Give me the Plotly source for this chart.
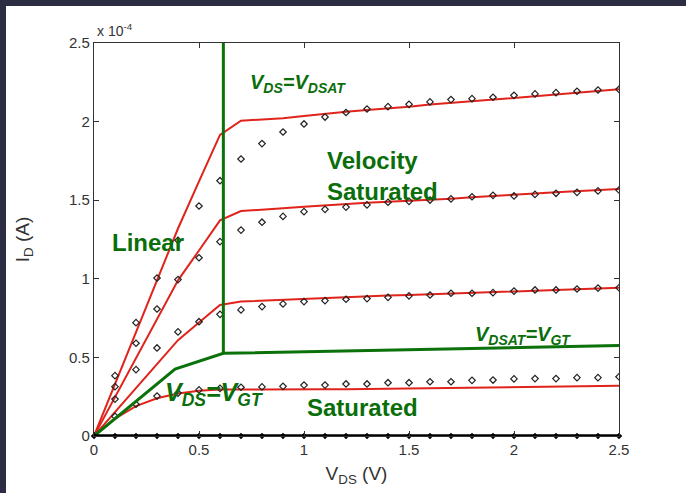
import plotly.graph_objects as go

# ---- data (drain current in units of 1e-4 A) ----
vds = [round(0.1 * i, 1) for i in range(26)]

model_1 = [0, 0.33, 0.66, 0.99, 1.32, 1.62, 1.915, 2.006, 2.012, 2.022, 2.036, 2.05, 2.063,
           2.073, 2.083, 2.095, 2.108, 2.118, 2.13, 2.14, 2.152, 2.162, 2.172, 2.183, 2.194, 2.205]
model_2 = [0, 0.247, 0.494, 0.741, 0.99, 1.18, 1.372, 1.431, 1.438, 1.448, 1.458, 1.468, 1.478,
           1.484, 1.49, 1.496, 1.502, 1.51, 1.519, 1.528, 1.537, 1.543, 1.55, 1.557, 1.564, 1.571]
model_3 = [0, 0.153, 0.305, 0.458, 0.61, 0.722, 0.833, 0.855, 0.861, 0.866, 0.871, 0.878, 0.884,
           0.888, 0.893, 0.897, 0.901, 0.905, 0.91, 0.914, 0.918, 0.923, 0.928, 0.933, 0.938, 0.943]
model_4 = [0, 0.11, 0.19, 0.24, 0.27, 0.288, 0.296, 0.297, 0.297, 0.297, 0.297, 0.297, 0.297,
           0.299, 0.301, 0.303, 0.304, 0.305, 0.307, 0.309, 0.312, 0.314, 0.316, 0.317, 0.319, 0.32]

sim_1 = [0, 0.384, 0.721, 1.005, 1.245, 1.463, 1.624, 1.762, 1.86, 1.934, 1.985, 2.029, 2.058,
         2.08, 2.095, 2.11, 2.125, 2.14, 2.146, 2.155, 2.167, 2.176, 2.184, 2.193, 2.201, 2.205]
sim_2 = [0, 0.314, 0.59, 0.808, 0.995, 1.134, 1.236, 1.31, 1.36, 1.397, 1.427, 1.442, 1.456,
         1.47, 1.487, 1.493, 1.501, 1.508, 1.522, 1.531, 1.527, 1.537, 1.544, 1.55, 1.559, 1.565]
sim_3 = [0, 0.235, 0.422, 0.56, 0.662, 0.727, 0.774, 0.802, 0.823, 0.84, 0.855, 0.861, 0.87,
         0.874, 0.882, 0.891, 0.897, 0.908, 0.908, 0.912, 0.922, 0.929, 0.929, 0.935, 0.941, 0.943]
sim_4 = [0, 0.125, 0.202, 0.254, 0.273, 0.293, 0.303, 0.31, 0.312, 0.316, 0.324, 0.324, 0.331,
         0.331, 0.339, 0.339, 0.345, 0.345, 0.354, 0.356, 0.363, 0.365, 0.365, 0.371, 0.371, 0.377]
sim_off = [0] * 26

vdsat_curve_x = [0, 0.386, 0.616, 2.5]
vdsat_curve_y = [0, 0.426, 0.526, 0.575]
vdsat_line_x = [0.616, 0.616]
vdsat_line_y = [0.526, 2.5]

x_ticks = [0, 0.5, 1, 1.5, 2, 2.5]
x_ticklabels = ["0", "0.5", "1", "1.5", "2", "2.5"]
y_ticks = [0, 0.5, 1, 1.5, 2, 2.5]
y_ticklabels = ["0", "0.5", "1", "1.5", "2", "2.5"]

# ---- figure (placed at 6,6 inside a dark page to leave the dark frame) ----
OFF = 6
W, H = 686 - OFF, 493 - OFF
ML, MR, MT, MB = 94 - OFF, 67, 43 - OFF, 57
PW, PH = W - ML - MR, H - MT - MB

def pxx(px):
    return (px - OFF - ML) / PW

def pxy(py):
    return (H - MB - (py - OFF)) / PH

RED = "#e0231b"
GREEN = "#0b720b"
TXT_GREEN = "#0a6e0a"
AX = "#333333"
DARK = "#2c2c42"
FONT = "Liberation Sans, Arial, sans-serif"

fig = go.Figure()

for ys in [model_1, model_2, model_3, model_4]:
    fig.add_trace(go.Scatter(x=vds, y=ys, mode="lines",
                             line=dict(color=RED, width=2), hoverinfo="skip"))

for ys in [sim_1, sim_2, sim_3, sim_4]:
    fig.add_trace(go.Scatter(x=vds, y=ys, mode="markers",
                             marker=dict(symbol="diamond-open", size=5, color="#222222",
                                         line=dict(width=1.2, color="#222222"))))

fig.add_trace(go.Scatter(x=vdsat_curve_x, y=vdsat_curve_y, mode="lines",
                         line=dict(color=GREEN, width=3)))
fig.add_trace(go.Scatter(x=vdsat_line_x, y=vdsat_line_y, mode="lines",
                         line=dict(color=GREEN, width=3), cliponaxis=False))

fig.add_trace(go.Scatter(x=vds, y=sim_off, mode="lines+markers", cliponaxis=False,
                         line=dict(color="black", width=3.5),
                         marker=dict(symbol="diamond", size=5, color="black")))

axis_common = dict(showgrid=False, zeroline=False, showline=True, linecolor=AX,
                   linewidth=1.3, mirror="ticks", ticks="inside", ticklen=5,
                   tickcolor=AX, tickwidth=1,
                   tickfont=dict(family=FONT, size=15, color=AX))

fig.update_layout(
    width=W, height=H,
    margin=dict(l=ML, r=MR, t=MT, b=MB),
    paper_bgcolor="white", plot_bgcolor="white",
    showlegend=False,
    xaxis=dict(range=[0, 2.5], tickvals=x_ticks, ticktext=x_ticklabels,
               title=dict(text="V<sub>DS</sub> (V)", standoff=9,
                          font=dict(family=FONT, size=19, color=AX)),
               **axis_common),
    yaxis=dict(range=[0, 2.5], tickvals=y_ticks, ticktext=y_ticklabels,
               title=dict(text="I<sub>D</sub> (A)", standoff=34,
                          font=dict(family=FONT, size=19, color=AX)),
               **axis_common),
)

# exponent label
fig.add_annotation(xref="paper", yref="paper", x=pxx(95), y=pxy(41), xanchor="left", yanchor="bottom",
                   text="x 10<sup>-4</sup>", showarrow=False,
                   font=dict(family=FONT, size=14, color=AX))

def label(x, y, text, size=24, italic=False):
    t = f"<b><i>{text}</i></b>" if italic else f"<b>{text}</b>"
    fig.add_annotation(x=x, y=y, xref="x", yref="y", xanchor="left", yanchor="middle",
                       text=t, showarrow=False, align="left",
                       font=dict(family=FONT, size=size, color=TXT_GREEN))

label(0.733, 2.24, "V<sub>DS</sub>=V<sub>DSAT</sub>", size=20, italic=True)
label(1.10, 1.655, "Velocity<br>Saturated", size=24)
label(0.076, 1.234, "Linear", size=24)
label(1.805, 0.64, "V<sub>DSAT</sub>=V<sub>GT</sub>", size=20, italic=True)
label(0.33, 0.27, "V<sub>DS</sub>=V<sub>GT</sub>", size=25, italic=True)
label(1.005, 0.184, "Saturated", size=24)

js = ("document.documentElement.style.background='%s';"
      "document.body.style.background='%s';"
      "document.body.style.margin='0';"
      "document.body.style.padding='%dpx 0 0 %dpx';"
      "document.body.style.overflow='hidden';") % (DARK, DARK, OFF, OFF)

fig.write_html("out.html", config={"displayModeBar": False}, post_script=js)
